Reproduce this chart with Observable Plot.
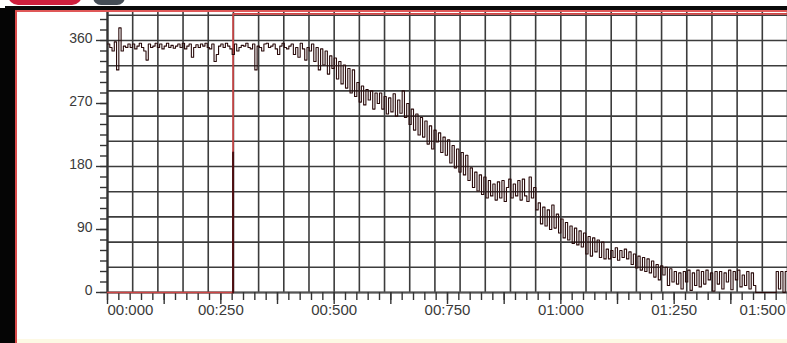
<!DOCTYPE html>
<html>
<head>
<meta charset="utf-8">
<script src="https://cdn.jsdelivr.net/npm/d3@7"></script>
<script src="https://cdn.jsdelivr.net/npm/@observablehq/plot@0.6"></script>
<style>
  html, body { margin: 0; padding: 0; background: #fff; }
  #wrap { position: relative; width: 787px; height: 343px; overflow: hidden; background: #fff; }
  #wrap svg { position: absolute; left: 0; top: 0; }
  .deco { position: absolute; }
</style>
</head>
<body>
<div id="wrap">
  <div class="deco" style="left:8px;top:-6px;width:74px;height:11px;background:#cf1f3d;border-radius:0 0 10px 10px;"></div>
  <div class="deco" style="left:93px;top:-6px;width:32px;height:11px;background:#454d56;border-radius:0 0 8px 8px;"></div>
  <div class="deco" style="left:5px;top:6px;width:782px;height:4px;background:#0a0a0a;"></div>
  <div class="deco" style="left:16px;top:10px;width:771px;height:2px;background:#e05858;"></div>
  <div class="deco" style="left:0px;top:8px;width:15px;height:335px;background:#050505;"></div>
  <div class="deco" style="left:15px;top:10px;width:1.5px;height:333px;background:#d84a4a;"></div>
  <div class="deco" style="left:17px;top:339px;width:770px;height:4px;background:#fdf9e4;"></div>
</div>
<script>
// ---- data ----
const sampleStep = 5; // time units between samples
const signal = [
  355,350,345,358,318,378,345,352,350,355,
  350,355,348,352,356,350,345,332,355,350,
  352,356,350,355,348,352,356,350,353,349,
  352,355,350,356,348,352,355,336,350,354,
  350,355,352,356,350,348,355,330,340,352,
  355,350,356,352,348,340,355,345,350,353,
  352,356,350,348,355,318,352,350,345,355,
  356,350,352,355,348,340,352,356,350,348,
  352,355,340,350,336,356,348,332,350,345,
  355,330,350,318,348,325,345,312,338,320,
  335,305,330,298,325,292,320,285,318,280,
  300,272,295,268,290,275,288,262,285,270,
  285,262,280,255,278,258,284,252,275,256,
  288,250,270,240,262,232,255,225,250,222,
  245,212,238,205,232,215,228,200,222,196,
  218,185,210,178,205,172,200,168,196,160,
  178,150,172,145,168,140,165,135,160,138,
  155,132,158,135,160,130,150,162,135,155,
  138,160,132,162,138,130,165,135,150,118,
  128,98,122,95,118,90,125,92,112,85,
  105,78,100,75,95,70,92,68,88,65,
  85,55,80,52,78,58,75,50,72,48,
  62,48,60,50,64,46,60,50,62,48,
  58,40,55,35,52,32,50,30,48,28,
  45,22,40,18,38,25,36,10,34,15,
  30,12,28,5,30,15,32,3,28,10,
  32,8,30,12,32,18,28,2,30,12,
  30,5,28,15,32,4,30,18,32,8,
  25,10,30,5,28,10,0,0,0,0,
  0,0,0,0,0,30,5,30,0,30
];
const triggerT = [0, 277, 277, 1500];
const triggerV = [0, 0, 398, 398];
const markerT = [277, 277];
const markerV = [0, 200];
const xTickValues = [0, 250, 500, 750, 1000, 1250, 1500];
const xTickLabels = ["00:000", "00:250", "00:500", "00:750", "01:000", "01:250", "01:500"];
const yTickValues = [0, 90, 180, 270, 360];
const yTickLabels = ["0", "90", "180", "270", "360"];

// ---- build tables ----
const sig = signal.map((v, i) => ({t: i * sampleStep, v}));
sig.push({t: 1500, v: signal[signal.length - 1]});
const trig = triggerT.map((t, i) => ({t, v: triggerV[i]}));
const mark = markerT.map((t, i) => ({t, v: markerV[i]}));
const xLab = xTickValues.map((x, i) => ({x, label: xTickLabels[i]}));
const yLab = yTickValues.map((y, i) => ({y, label: yTickLabels[i]}));

const vGrid = d3.range(0, 28).map(i => i * 1500 / 27);
const hGrid = d3.range(0, 12).map(i => i * 36);
const yMinor = d3.range(0, 391, 15);
const xMinor = d3.range(0, 1501, 25);
const xMid = d3.range(0, 1501, 125);

const gridColor = "#3c3c3c";

const chart = Plot.plot({
  width: 787,
  height: 343,
  marginLeft: 107,
  marginRight: 0,
  marginTop: 10,
  marginBottom: 51,
  style: {fontFamily: "Liberation Sans, Arial, sans-serif", background: "transparent", color: "#333"},
  x: {domain: [0, 1500], axis: null},
  y: {domain: [0, 402.86], axis: null},
  marks: [
    Plot.ruleX(vGrid, {stroke: gridColor, strokeWidth: 1.6}),
    Plot.ruleY(hGrid, {stroke: gridColor, strokeWidth: 1.6}),
    Plot.ruleX([0], {stroke: "#333", strokeWidth: 2.2}),
    Plot.ruleY([0], {stroke: "#555", strokeWidth: 2}),
    Plot.axisY({ticks: yMinor, tickSize: 7, tickFormat: () => "", stroke: "#333", strokeWidth: 1.4}),
    Plot.axisY({ticks: yTickValues, tickSize: 11, tickFormat: () => "", stroke: "#333", strokeWidth: 1.4}),
    Plot.axisX({ticks: xMinor, tickSize: 8, tickFormat: () => "", stroke: "#333", strokeWidth: 1.4}),
    Plot.axisX({ticks: xMid, tickSize: 12, tickFormat: () => "", stroke: "#333", strokeWidth: 1.4}),
    Plot.text(yLab, {y: "y", text: "label", frameAnchor: "left", dx: -15, dy: -2, textAnchor: "end", fontSize: 14, fill: "#3a3a3a"}),
    Plot.text(xLab.slice(0, 1), {x: "x", text: "label", frameAnchor: "bottom", dy: 22, textAnchor: "start", fontSize: 15, fill: "#3a3a3a"}),
    Plot.text(xLab.slice(1, -1), {x: "x", text: "label", frameAnchor: "bottom", dy: 22, textAnchor: "middle", fontSize: 15, fill: "#3a3a3a"}),
    Plot.text(xLab.slice(-1), {x: "x", text: "label", frameAnchor: "bottom", dy: 22, dx: -2, textAnchor: "end", fontSize: 15, fill: "#3a3a3a"}),
    Plot.line(trig, {x: "t", y: "v", stroke: "#cf4545", strokeWidth: 1.6}),
    Plot.line(mark, {x: "t", y: "v", stroke: "#4a0d10", strokeWidth: 2}),
    Plot.line(sig, {x: "t", y: "v", curve: "step-after", stroke: "#2a0b0b", strokeWidth: 1.1})
  ]
});
document.getElementById("wrap").prepend(chart);
</script>
</body>
</html>
